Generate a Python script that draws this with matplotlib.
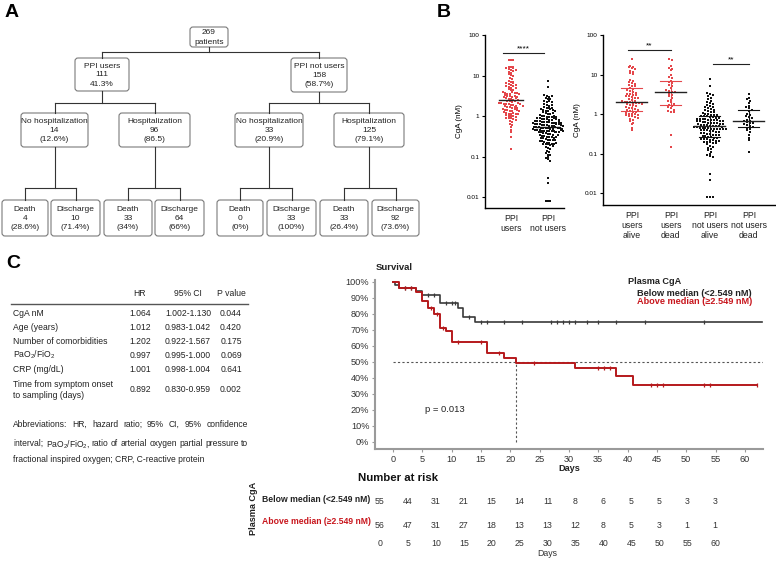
import numpy as np
import matplotlib
matplotlib.use("Agg")
import matplotlib.pyplot as plt
from matplotlib.patches import FancyBboxPatch

plt.rcParams['font.family'] = ['Liberation Sans', 'DejaVu Sans']
plt.rcParams['mathtext.fontset'] = 'custom'
plt.rcParams['mathtext.rm'] = 'Liberation Sans'
plt.rcParams['mathtext.it'] = 'Liberation Sans:italic'
plt.rcParams['mathtext.bf'] = 'Liberation Sans:bold'

# ---------------- DATA ----------------
# Panel A: flow tree
root_text = "269\npatients"
level1_texts = ["PPI users\n111\n41.3%", "PPI not users\n158\n(58.7%)"]
level2_texts = ["No hospitalization\n14\n(12.6%)", "Hospitalization\n96\n(86.5)",
                "No hospitalization\n33\n(20.9%)", "Hospitalization\n125\n(79.1%)"]
level3_texts = ["Death\n4\n(28.6%)", "Discharge\n10\n(71.4%)",
                "Death\n33\n(34%)", "Discharge\n64\n(66%)",
                "Death\n0\n(0%)", "Discharge\n33\n(100%)",
                "Death\n33\n(26.4%)", "Discharge\n92\n(73.6%)"]

# Panel B: plasma CgA (nM)
users_alive = [24.5, 16.5, 15.8, 15.2, 14.6, 13.9, 12.5, 11.8, 10.9, 10.2,
               7.4, 6.8, 6.4, 6.1, 5.8, 5.5, 5.2, 5.0, 4.6, 4.3,
               4.0, 3.8, 3.6, 3.5, 3.3, 3.2, 3.1, 3.0, 2.9, 2.8,
               2.7, 2.6, 2.5, 2.4, 2.3, 2.2, 2.1, 2.05, 2.0, 1.98,
               1.95, 1.9, 1.85, 1.8, 1.75, 1.7, 1.65, 1.6, 1.5, 1.45,
               1.4, 1.35, 1.3, 1.25, 1.2, 1.15, 1.1, 1.05, 1.02, 1.0,
               0.98, 0.95, 0.92, 0.9, 0.88, 0.85, 0.8, 0.75, 0.7, 0.65,
               0.6, 0.55, 0.45, 0.4]
users_dead = [24.0, 23.5, 16.0, 15.0, 14.0, 13.0, 10.0, 8.5, 8.0, 7.0,
              6.5, 6.0, 5.5, 5.0, 4.5, 4.0, 3.8, 3.7, 3.6, 3.2,
              3.0, 2.8, 2.5, 2.3, 2.1, 2.0, 1.8, 1.7, 1.6, 1.5,
              1.4, 1.3, 1.2, 1.15, 1.1, 0.3, 0.15]
nonusers_alive = [7.5, 5.2, 3.4, 3.2, 3.0, 2.8, 2.6, 2.4, 2.2, 2.0,
                  1.9, 1.8, 1.7, 1.6, 1.55, 1.5, 1.4, 1.35, 1.3, 1.25,
                  1.2, 1.15, 1.1, 1.05, 1.02,
                  0.99, 0.97, 0.95, 0.93, 0.91, 0.89, 0.87, 0.85, 0.83, 0.81,
                  0.79, 0.77, 0.75, 0.74, 0.73, 0.72, 0.71, 0.7, 0.69, 0.68,
                  0.67, 0.66, 0.65, 0.64, 0.62, 0.61,
                  0.6, 0.59, 0.58, 0.57, 0.56, 0.55, 0.54, 0.53, 0.52, 0.51,
                  0.5, 0.5, 0.49, 0.48, 0.47, 0.46, 0.45, 0.45, 0.44, 0.44,
                  0.43, 0.43, 0.42, 0.42, 0.41, 0.41, 0.4, 0.4,
                  0.39, 0.38, 0.37, 0.36, 0.35, 0.34, 0.33, 0.32, 0.31, 0.3,
                  0.3, 0.29, 0.28, 0.28, 0.27, 0.26, 0.25, 0.25, 0.24, 0.24,
                  0.23, 0.22, 0.22, 0.21, 0.21, 0.2, 0.2, 0.2,
                  0.19, 0.18, 0.17, 0.16, 0.15, 0.14, 0.13, 0.12, 0.11, 0.1,
                  0.09, 0.085, 0.08, 0.03, 0.022, 0.008, 0.008, 0.008]
nonusers_dead = [3.2, 2.6, 2.4, 2.2, 1.9, 1.6, 1.5, 1.4, 1.3, 1.2,
                 1.0, 0.95, 0.9, 0.85, 0.8, 0.72, 0.68, 0.65, 0.62, 0.6,
                 0.58, 0.55, 0.52, 0.5, 0.48, 0.45, 0.42, 0.4, 0.35, 0.3,
                 0.25, 0.22, 0.11]
left_cats = ["PPI\nusers", "PPI\nnot users"]
right_cats = ["PPI\nusers\nalive", "PPI\nusers\ndead", "PPI\nnot users\nalive", "PPI\nnot users\ndead"]
ytick_vals = [0.01, 0.1, 1, 10, 100]
ytick_labels = ["0.01", "0.1", "1", "10", "100"]

# Panel C table
table_header = ["HR", "95% CI", "P value"]
table_rows = ["CgA nM", "Age (years)", "Number of comorbidities",
              "PaO$_2$/FiO$_2$", "CRP (mg/dL)", "Time from symptom onset\nto sampling (days)"]
table_hr = ["1.064", "1.012", "1.202", "0.997", "1.001", "0.892"]
table_ci = ["1.002-1.130", "0.983-1.042", "0.922-1.567", "0.995-1.000", "0.998-1.004", "0.830-0.959"]
table_p = ["0.044", "0.420", "0.175", "0.069", "0.641", "0.002"]
abbrev_lines = ["Abbreviations: HR, hazard ratio; 95% CI, 95% confidence",
                "interval; PaO$_2$/FiO$_2$, ratio of arterial oxygen partial pressure to",
                "fractional inspired oxygen; CRP, C-reactive protein"]

# Kaplan-Meier (survival %, days)
below_t = [0, 0.4, 1, 4, 5, 8, 11, 12, 14]
below_s = [100, 98, 96, 94.5, 92, 87, 84, 78, 75.2]
below_end = 63
below_cens = [2, 3, 6, 7, 9, 10, 10.5, 13, 15, 16, 19, 22, 27, 28, 29, 30, 31, 33, 35, 38, 43, 53]
above_t = [0, 1, 4, 5, 6, 7, 8, 9, 10, 16, 19, 21, 31, 38, 41]
above_s = [100, 96, 94, 88, 84, 80, 71.5, 69.5, 62.5, 55.5, 52.5, 49.5, 46, 41, 35.5]
above_end = 62
above_cens = [2, 3, 6.5, 7.5, 8.5, 11, 15, 18, 24, 35, 36, 37, 44, 45, 46, 53, 54, 62]
median_day = 21
p_text = "p = 0.013"

risk_days = [0, 5, 10, 15, 20, 25, 30, 35, 40, 45, 50, 55, 60]
risk_below = [55, 44, 31, 21, 15, 14, 11, 8, 6, 5, 5, 3, 3]
risk_above = [56, 47, 31, 27, 18, 13, 13, 12, 8, 5, 3, 1, 1]

RED_PT = '#e4474b'
RED_KM = '#b5191c'
RED_TXT = '#c8161d'

# ---------------- FIGURE ----------------
W, H = 776, 563
fig = plt.figure(figsize=(W / 100, H / 100), dpi=100)
base = fig.add_axes([0, 0, 1, 1])
base.set_xlim(0, W)
base.set_ylim(H, 0)
base.axis('off')


def pax(x0, y0, x1, y1):
    return fig.add_axes([x0 / W, 1 - y1 / H, (x1 - x0) / W, (y1 - y0) / H])


# Panel letters
for lab, (x, y) in zip("ABC", [(5, 4), (437, 4), (6, 255)]):
    base.text(x, y, lab, fontsize=14, fontweight='bold', ha='left', va='top')

# ---------------- Panel A ----------------
def box(x0, y0, x1, y1, txt):
    p = FancyBboxPatch((x0, y0), x1 - x0, y1 - y0,
                       boxstyle="round,pad=0,rounding_size=3",
                       fc='white', ec='#7a7a7a', lw=0.8)
    base.add_patch(p)
    base.text((x0 + x1) / 2, (y0 + y1) / 2 + 0.5, txt, ha='center', va='center',
              fontsize=6.0, linespacing=1.4, color='#222')
    return ((x0 + x1) / 2, y0, y1)


def connect(parent, children, ybar):
    px, _, pb = parent
    base.plot([px, px], [pb, ybar], color='#333', lw=0.8)
    xs = [c[0] for c in children]
    base.plot([min(xs), max(xs)], [ybar, ybar], color='#333', lw=0.8)
    for c in children:
        base.plot([c[0], c[0]], [ybar, c[1]], color='#333', lw=0.8)


root = box(190, 27, 228, 47, root_text)
l1_geom = [(75, 58, 129, 91), (291, 58, 347, 92)]
l1 = [box(*g, t) for g, t in zip(l1_geom, level1_texts)]
l2_geom = [(21, 113, 88, 147), (119, 113, 190, 147), (235, 113, 303, 147), (334, 113, 404, 147)]
l2 = [box(*g, t) for g, t in zip(l2_geom, level2_texts)]
l3_x = [(2, 48), (51, 100), (104, 152), (155, 204), (217, 263), (267, 316), (320, 368), (372, 419)]
l3 = [box(a, 200, b, 236, t) for (a, b), t in zip(l3_x, level3_texts)]
connect(root, l1, 52)
connect(l1[0], l2[0:2], 103)
connect(l1[1], l2[2:4], 103)
for i in range(4):
    connect(l2[i], l3[2 * i:2 * i + 2], 188)

# ---------------- Panel B ----------------
def swarm_x(vals, center, dx, bin_dec=0.072):
    v = np.asarray(vals, float)
    b = np.round(np.log10(v) / bin_dec).astype(int)
    x = np.empty(len(v))
    for k in np.unique(b):
        idx = np.where(b == k)[0]
        n = len(idx)
        x[idx] = center + (np.arange(n) - (n - 1) / 2) * dx
    return x


def style_b(ax, cats, ylab):
    ax.set_yscale('log')
    ax.set_yticks(ytick_vals)
    ax.set_yticklabels(ytick_labels)
    ax.yaxis.set_minor_locator(matplotlib.ticker.NullLocator())
    ax.set_xticks(range(len(cats)))
    ax.set_xticklabels(cats, fontsize=6.3, linespacing=1.15, color='#222')
    ax.tick_params(axis='y', labelsize=4.6, length=2.5, width=0.8, pad=1.5)
    ax.tick_params(axis='x', length=0, pad=4)
    for s in ['top', 'right']:
        ax.spines[s].set_visible(False)
    for s in ['left', 'bottom']:
        ax.spines[s].set_linewidth(1.0)
    ax.set_ylabel(ylab, fontsize=5.8, labelpad=3)
    ax.patch.set_alpha(0)


users_all = users_alive + users_dead
nonusers_all = nonusers_alive + nonusers_dead

MS = 1.65
axL = pax(485, 35, 564, 208)
axL.set_xlim(-0.7, 1.43)
axL.set_ylim(0.0054, 100)
for i, (vals, col) in enumerate([(users_all, RED_PT), (nonusers_all, '#111')]):
    axL.plot(swarm_x(vals, i, 0.064), vals, 's', ms=MS, mew=0, color=col)
    m = np.median(vals)
    axL.plot([i - 0.32, i + 0.32], [m, m], color='#222' if i == 0 else '#111', lw=1.0)
axL.plot([-0.22, 0.89], [36, 36], color='#222', lw=0.8)
axL.text(0.33, 38, "****", ha='center', va='bottom', fontsize=6)
style_b(axL, left_cats, "CgA (nM)")

axR = pax(603, 35, 775, 205)
axR.set_xlim(-0.74, 3.67)
axR.set_ylim(0.005, 100)
groups = [(users_alive, RED_PT), (users_dead, RED_PT), (nonusers_alive, '#111'), (nonusers_dead, '#111')]
for i, (vals, col) in enumerate(groups):
    axR.plot(swarm_x(vals, i, 0.075), vals, 's', ms=MS, mew=0, color=col)
    q1, m, q3 = np.percentile(vals, [25, 50, 75])
    lc = RED_PT if i < 2 else '#111'
    axR.plot([i, i], [q1, q3], color=lc, lw=0.8)
    axR.plot([i - 0.27, i + 0.27], [q1, q1], color=lc, lw=0.8)
    axR.plot([i - 0.27, i + 0.27], [q3, q3], color=lc, lw=0.8)
    axR.plot([i - 0.4, i + 0.4], [m, m], color='#222', lw=1.0)
axR.plot([-0.1, 1.0], [42, 42], color='#222', lw=0.8)
axR.text(0.45, 44, "**", ha='center', va='bottom', fontsize=6)
axR.plot([2.08, 3.0], [18.6, 18.6], color='#222', lw=0.8)
axR.text(2.54, 19.5, "**", ha='center', va='bottom', fontsize=6)
style_b(axR, right_cats, "CgA (nM)")

# ---------------- Panel C table ----------------
FS_T = 6.2
col_x = [140, 188, 231]
for x, h in zip(col_x, table_header):
    base.text(x, 294, h, ha='center', va='center', fontsize=FS_T, color='#222')
base.plot([11, 248], [304, 304], color='#555', lw=1.0)
row_y = [313, 327, 341, 355, 369, 390]
for y, lab, hr, ci, p in zip(row_y, table_rows, table_hr, table_ci, table_p):
    base.text(13, y, lab, ha='left', va='center', fontsize=FS_T, color='#222', linespacing=1.3)
    for x, v in zip(col_x, [hr, ci, p]):
        base.text(x, y, v, ha='center', va='center', fontsize=FS_T, color='#222')

# justified abbreviations paragraph
FS_P = 6.15
renderer = fig.canvas.get_renderer()
x_left, x_right = 13, 248
abbrev_base = [427, 446, 462]
inv = base.transData.inverted()
for li, (line, y) in enumerate(zip(abbrev_lines, abbrev_base)):
    if li == len(abbrev_lines) - 1:
        base.text(x_left, y, line, ha='left', va='baseline', fontsize=FS_P, color='#222')
        continue
    words = line.split(' ')
    objs = [base.text(0, y, w, ha='left', va='baseline', fontsize=FS_P, color='#222') for w in words]
    widths = []
    for o in objs:
        bb = o.get_window_extent(renderer)
        widths.append(inv.transform((bb.x1, bb.y0))[0] - inv.transform((bb.x0, bb.y0))[0])
    gap = (x_right - x_left - sum(widths)) / (len(words) - 1)
    x = x_left
    for o, w in zip(objs, widths):
        o.set_x(x)
        x += w + gap

# ---------------- Kaplan-Meier ----------------
axK = pax(375, 280, 763, 449)
axK.set_xlim(-3.07, 63.1)
axK.set_ylim(-4.4, 101.2)


def km(ax, t, s, tend, cens, col, lw):
    t = np.asarray(t, float)
    s = np.asarray(s, float)
    ax.step(np.r_[t, tend], np.r_[s, s[-1]], where='post', color=col, lw=lw, zorder=3)
    c = np.asarray(cens, float)
    cs = s[np.searchsorted(t, c, side='right') - 1]
    ax.plot(c, cs, '|', ms=3.5, mew=0.9, color=col, zorder=4)


axK.plot([0, 63.1], [50, 50], ls=(0, (2, 2)), color='#555', lw=0.8)
axK.plot([median_day, median_day], [0, 50], ls=(0, (2, 2)), color='#555', lw=0.8)
km(axK, below_t, below_s, below_end, below_cens, '#3a3a3a', 1.2)
km(axK, above_t, above_s, above_end, above_cens, RED_KM, 1.4)
axK.set_yticks(range(0, 101, 10))
axK.set_yticklabels([f"{v}%" for v in range(0, 101, 10)])
axK.set_xticks(range(0, 61, 5))
for s in ['top', 'right']:
    axK.spines[s].set_visible(False)
for s in ['left', 'bottom']:
    axK.spines[s].set_color('#9a9a9a')
    axK.spines[s].set_linewidth(1.5)
axK.tick_params(labelsize=6.6, length=2.5, width=0.8, color='#9a9a9a', labelcolor='#333', pad=1.5)
axK.set_xlabel("Days", fontsize=6.6, fontweight='bold', labelpad=0, color='#222')
axK.text(5.5, 20, p_text, fontsize=6.8, color='#222', va='center')
axK.patch.set_alpha(0)

base.text(376, 267, "Survival", fontsize=6.8, fontweight='bold', ha='left', va='center', color='#222')
base.text(628, 281, "Plasma CgA", fontsize=6.6, fontweight='bold', ha='left', va='center', color='#222')
base.text(752, 293, "Below median (<2.549 nM)", fontsize=6.6, fontweight='bold', ha='right', va='center', color='#222')
base.text(752, 302, "Above median (≥2.549 nM)", fontsize=6.6, fontweight='bold', ha='right', va='center', color=RED_TXT)

# ---------------- Number at risk ----------------
base.text(358, 478, "Number at risk", fontsize=8.2, fontweight='bold', ha='left', va='center', color='#111')
base.text(253, 508, "Plasma CgA", fontsize=6.6, fontweight='bold', rotation=90, ha='center', va='center', color='#222')
base.text(262, 500, "Below median (<2.549 nM)", fontsize=6.2, fontweight='bold', ha='left', va='center', color='#222')
base.text(262, 522, "Above median (≥2.549 nM)", fontsize=6.2, fontweight='bold', ha='left', va='center', color=RED_TXT)

axT = pax(380, 490, 715, 560)
axT.set_xlim(0, 60)
axT.set_ylim(560, 490)
axT.axis('off')
for d, nb, na in zip(risk_days, risk_below, risk_above):
    axT.text(d, 501, str(nb), ha='center', va='center', fontsize=6.3, color='#333')
    axT.text(d, 526, str(na), ha='center', va='center', fontsize=6.3, color='#333')
    axT.text(d, 544, str(d), ha='center', va='center', fontsize=6.3, color='#333')
axT.text(30, 553, "Days", ha='center', va='center', fontsize=6.3, color='#333')

fig.savefig("out.png", dpi=100)
